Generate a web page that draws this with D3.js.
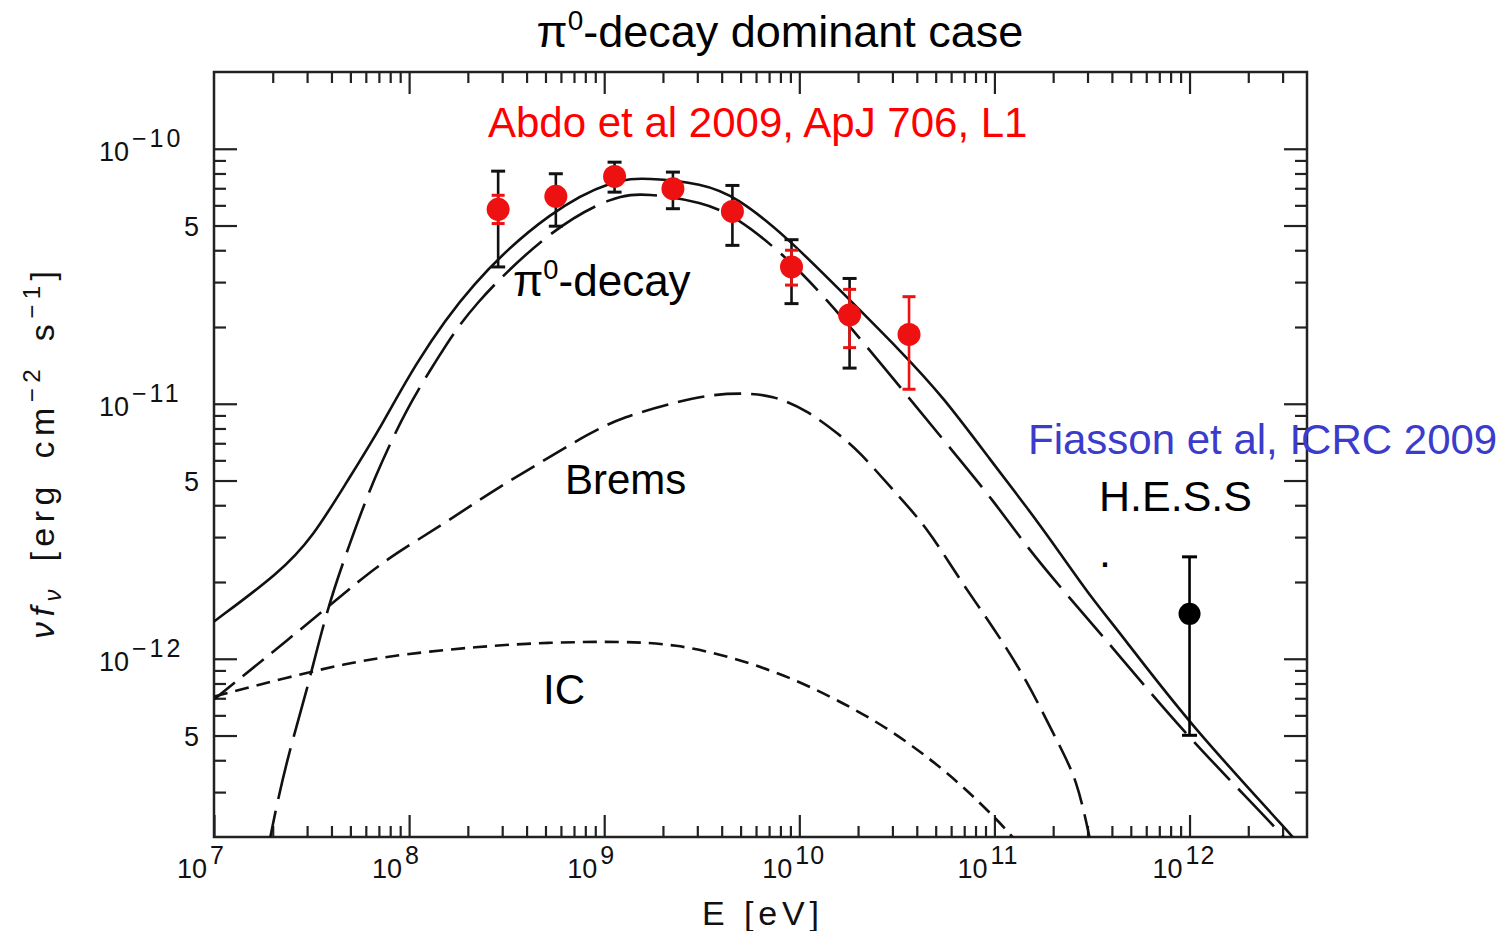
<!DOCTYPE html>
<html>
<head>
<meta charset="utf-8">
<script src="https://cdn.jsdelivr.net/npm/d3@7"></script>
<style>
  html, body { margin: 0; padding: 0; background: #fff; }
  svg { display: block; }
  text { font-family: "Liberation Sans", Arial, sans-serif; }
</style>
</head>
<body>
<div id="chart"></div>
<script>
// Model curves: E [eV] and nu f_nu [erg cm^-2 s^-1]
const totalE = [1e7, 2.18e7, 3.21e7, 4.80e7, 7.08e7, 1.045e8, 2.05e8, 5.46e8, 1.13e9, 1.65e9, 3.20e9, 4.78e9, 8.61e9, 1.556e10, 3.39e10, 5.43e10, 9.79e10, 1.46e11, 2.16e11, 3.18e11, 4.38e11, 1e12, 3.37e12, 4.5e12];
const totalF = [1.40e-12, 2.18e-12, 3.0e-12, 4.95e-12, 7.95e-12, 1.39e-11, 2.97e-11, 5.83e-11, 7.59e-11, 7.70e-11, 7.31e-11, 6.47e-11, 4.51e-11, 2.87e-11, 1.58e-11, 1.07e-11, 5.86e-12, 3.95e-12, 2.61e-12, 1.71e-12, 1.27e-12, 5.53e-13, 2.02e-13, 1.55e-13];

const pionE = [1.85e7, 1.94e7, 2.36e7, 2.98e7, 3.78e7, 4.97e7, 6.55e7, 9.71e7, 1.38e8, 2.05e8, 5.46e8, 1.13e9, 1.65e9, 3.20e9, 4.78e9, 8.61e9, 1.556e10, 3.39e10, 6.64e10, 9.79e10, 1.46e11, 2.16e11, 4.23e11, 1e12, 3.07e12, 4.5e12];
const pionF = [1.6e-13, 2.02e-13, 4.04e-13, 7.36e-13, 1.56e-12, 2.84e-12, 5.04e-12, 9.6e-12, 1.48e-11, 2.40e-11, 4.92e-11, 6.56e-11, 6.70e-11, 6.18e-11, 5.40e-11, 3.77e-11, 2.33e-11, 1.13e-11, 6.03e-12, 4.20e-12, 2.76e-12, 1.92e-12, 1.06e-12, 4.83e-13, 2.02e-13, 1.4e-13];

const bremsE = [1e7, 3.84e7, 7.08e7, 1.44e8, 2.59e8, 4.68e8, 8.44e8, 1.25e9, 2.25e9, 3.35e9, 4.95e9, 7.31e9, 1.09e10, 1.61e10, 2.04e10, 3.01e10, 4.49e10, 6.64e10, 9.79e10, 1.46e11, 2.16e11, 2.64e11, 3.07e11, 3.22e11];
const bremsF = [6.93e-13, 1.59e-12, 2.38e-12, 3.30e-12, 4.48e-12, 5.86e-12, 7.69e-12, 8.87e-12, 1.007e-11, 1.08e-11, 1.104e-11, 1.08e-11, 9.46e-12, 7.55e-12, 6.47e-12, 4.60e-12, 3.30e-12, 2.04e-12, 1.34e-12, 8.30e-13, 4.54e-13, 3.37e-13, 2.02e-13, 1.64e-13];

const icE = [1e7, 3.10e7, 7.08e7, 2.31e8, 5.33e8, 1.25e9, 2.33e9, 4.40e9, 8.28e9, 1.556e10, 2.94e10, 5.49e10, 8.39e10, 1.24e11, 1.35e11];
const icF = [7.11e-13, 8.91e-13, 1.02e-12, 1.12e-12, 1.16e-12, 1.17e-12, 1.14e-12, 1.02e-12, 8.69e-13, 6.93e-13, 5.28e-13, 3.69e-13, 2.74e-13, 2.02e-13, 1.82e-13];

// Fermi-LAT points (Abdo et al 2009)
const fermiE = [2.86e8, 5.65e8, 1.13e9, 2.25e9, 4.54e9, 9.12e9, 1.81e10, 3.65e10];
const fermiF = [5.79e-11, 6.51e-11, 7.79e-11, 6.97e-11, 5.68e-11, 3.44e-11, 2.23e-11, 1.87e-11];
const fermiSysLo = [3.44e-11, 4.97e-11, 6.76e-11, 5.82e-11, 4.18e-11, 2.47e-11, 1.38e-11, null];
const fermiSysHi = [8.17e-11, 7.98e-11, 8.86e-11, 8.10e-11, 7.18e-11, 4.40e-11, 3.10e-11, null];
const fermiStatLo = [5.09e-11, null, null, null, null, 2.92e-11, 1.66e-11, 1.14e-11];
const fermiStatHi = [6.57e-11, null, null, null, null, 4.00e-11, 2.81e-11, 2.63e-11];

// H.E.S.S. point (Fiasson et al, ICRC 2009)
const hessE = [1e12];
const hessF = [1.50e-12];
const hessLo = [5.01e-13];
const hessHi = [2.51e-12];

// axis ticks
const xMajorTicks = [1e7, 1e8, 1e9, 1e10, 1e11, 1e12];
const xTickExp = ["7", "8", "9", "10", "11", "12"];
const yLongTicks = [1e-10, 5e-11, 1e-11, 5e-12, 1e-12, 5e-13];
const yDecadeTicks = [1e-10, 1e-11, 1e-12];
const yDecadeExp = ["\u221210", "\u221211", "\u221212"];
const yFiveTicks = [5e-11, 5e-12, 5e-13];

const W = 1505, H = 931;
const PLOT = { left: 214, right: 1307, top: 72, bottom: 837 };

const svg = d3.select("#chart").append("svg")
    .attr("width", W)
    .attr("height", H);

const x = d3.scaleLog().domain([1e7, 4e12]).range([PLOT.left, PLOT.right]);
const y = d3.scaleLog().domain([2e-13, 2e-10]).range([PLOT.bottom, PLOT.top]);

const mant = v => Math.round(v / Math.pow(10, Math.floor(Math.log10(v) + 1e-9)));
const inside = (s, v) => { const d = s.domain(); return v > d[0] * 1.001 && v < d[1] * 0.999; };

const xMinor = x.ticks().filter(v => mant(v) !== 1 && inside(x, v));
const yMinor = y.ticks().filter(v => mant(v) !== 1 && mant(v) !== 5 && inside(y, v));

// Axes (ticks pointing inward on all four sides)
function addAxis(axisFn, transform, values, size) {
    const g = svg.append("g")
        .attr("transform", transform)
        .call(axisFn.tickValues(values).tickSizeInner(-size).tickSizeOuter(0).tickFormat(""));
    g.select(".domain").remove();
    g.selectAll(".tick line").attr("stroke", "#222").attr("stroke-width", 2.2);
}
addAxis(d3.axisBottom(x), `translate(0,${PLOT.bottom})`, xMajorTicks, 22);
addAxis(d3.axisBottom(x), `translate(0,${PLOT.bottom})`, xMinor, 11);
addAxis(d3.axisTop(x), `translate(0,${PLOT.top})`, xMajorTicks.filter(v => v > 1e7), 22);
addAxis(d3.axisTop(x), `translate(0,${PLOT.top})`, xMinor, 11);
addAxis(d3.axisLeft(y), `translate(${PLOT.left},0)`, yLongTicks, 23);
addAxis(d3.axisLeft(y), `translate(${PLOT.left},0)`, yMinor, 12);
addAxis(d3.axisRight(y), `translate(${PLOT.right},0)`, yLongTicks, 23);
addAxis(d3.axisRight(y), `translate(${PLOT.right},0)`, yMinor, 12);

// frame
svg.append("rect")
    .attr("x", PLOT.left)
    .attr("y", PLOT.top)
    .attr("width", PLOT.right - PLOT.left)
    .attr("height", PLOT.bottom - PLOT.top)
    .attr("fill", "none")
    .attr("stroke", "#222")
    .attr("stroke-width", 2.5);

// x tick labels
xMajorTicks.forEach((v, i) => {
    svg.append("text")
        .attr("x", x(v) - 7)
        .attr("y", PLOT.bottom + 41)
        .attr("text-anchor", "end")
        .attr("font-size", 27)
        .attr("fill", "#111")
        .text("10");
    svg.append("text")
        .attr("x", x(v) - 4)
        .attr("y", PLOT.bottom + 27)
        .attr("text-anchor", "start")
        .attr("font-size", 25)
        .attr("letter-spacing", 1)
        .attr("fill", "#111")
        .text(xTickExp[i]);
});

// y tick labels
yDecadeTicks.forEach((v, i) => {
    svg.append("text")
        .attr("x", 129)
        .attr("y", y(v) + 12)
        .attr("text-anchor", "end")
        .attr("font-size", 27)
        .attr("fill", "#111")
        .text("10");
    svg.append("text")
        .attr("x", 132)
        .attr("y", y(v) - 2)
        .attr("text-anchor", "start")
        .attr("font-size", 25)
        .attr("letter-spacing", 3)
        .attr("fill", "#111")
        .text(yDecadeExp[i]);
});
yFiveTicks.forEach(v => {
    svg.append("text")
        .attr("x", 199)
        .attr("y", y(v) + 10)
        .attr("text-anchor", "end")
        .attr("font-size", 27)
        .attr("fill", "#111")
        .text("5");
});

// axis titles
svg.append("text")
    .attr("x", (PLOT.left + PLOT.right) / 2)
    .attr("y", 925)
    .attr("text-anchor", "middle")
    .attr("font-size", 34)
    .attr("fill", "#111")
    .attr("textLength", 117)
    .attr("lengthAdjust", "spacing")
    .text("E [eV]");

const yTitle = svg.append("text")
    .attr("transform", "translate(54,455) rotate(-90)")
    .attr("text-anchor", "middle")
    .attr("font-size", 34)
    .attr("fill", "#111")
    .attr("textLength", 368)
    .attr("lengthAdjust", "spacing");
yTitle.append("tspan").attr("font-style", "italic").text("\u03bdf");
yTitle.append("tspan").attr("font-size", 24).attr("dy", 7).attr("font-style", "italic").text("\u03bd");
yTitle.append("tspan").attr("dy", -7).text("\u2002[erg\u2002cm");
yTitle.append("tspan").attr("font-size", 24).attr("dy", -14).text("\u22122");
yTitle.append("tspan").attr("dy", 14).text("\u2002s");
yTitle.append("tspan").attr("font-size", 24).attr("dy", -14).text("\u22121");
yTitle.append("tspan").attr("dy", 14).text("]");

// model curves
svg.append("clipPath").attr("id", "plot-clip")
    .append("rect")
    .attr("x", PLOT.left)
    .attr("y", PLOT.top)
    .attr("width", PLOT.right - PLOT.left)
    .attr("height", PLOT.bottom - PLOT.top);

const line = d3.line()
    .x(d => x(d[0]))
    .y(d => y(d[1]))
    .curve(d3.curveBasis);

const curves = [
    { E: totalE, F: totalF, dash: null },
    { E: pionE, F: pionF, dash: "52,12" },
    { E: bremsE, F: bremsF, dash: "27,10" },
    { E: icE, F: icF, dash: "14,8" }
];
const curveG = svg.append("g").attr("clip-path", "url(#plot-clip)");
curves.forEach(c => {
    curveG.append("path")
        .datum(c.E.map((e, i) => [e, c.F[i]]))
        .attr("d", line)
        .attr("fill", "none")
        .attr("stroke", "#111")
        .attr("stroke-width", 2.6)
        .attr("stroke-dasharray", c.dash);
});

// error bars
function errBar(g, e, lo, hi, color, cap) {
    g.append("line")
        .attr("x1", x(e)).attr("x2", x(e))
        .attr("y1", y(lo)).attr("y2", y(hi))
        .attr("stroke", color).attr("stroke-width", 2.6);
    [lo, hi].forEach(v => {
        g.append("line")
            .attr("x1", x(e) - cap / 2).attr("x2", x(e) + cap / 2)
            .attr("y1", y(v)).attr("y2", y(v))
            .attr("stroke", color).attr("stroke-width", 3);
    });
}
const pts = svg.append("g");
fermiE.forEach((e, i) => {
    if (fermiSysLo[i] !== null) errBar(pts, e, fermiSysLo[i], fermiSysHi[i], "#111", 14);
});
fermiE.forEach((e, i) => {
    if (fermiStatLo[i] !== null) errBar(pts, e, fermiStatLo[i], fermiStatHi[i], "#ee1111", 13);
});
pts.selectAll("circle.fermi")
    .data(fermiE.map((e, i) => [e, fermiF[i]]))
    .join("circle")
    .attr("class", "fermi")
    .attr("cx", d => x(d[0]))
    .attr("cy", d => y(d[1]))
    .attr("r", 11.5)
    .attr("fill", "#ee1111");

hessE.forEach((e, i) => errBar(pts, e, hessLo[i], hessHi[i], "#000", 15));
pts.selectAll("circle.hess")
    .data(hessE.map((e, i) => [e, hessF[i]]))
    .join("circle")
    .attr("class", "hess")
    .attr("cx", d => x(d[0]))
    .attr("cy", d => y(d[1]))
    .attr("r", 11)
    .attr("fill", "#000");

// annotations; parts: plain strings or {sup: "..."} raised by `raise` px
function label(tx, ty, size, color, parts, raise) {
    const t = svg.append("text")
        .attr("x", tx).attr("y", ty)
        .attr("font-size", size)
        .attr("fill", color);
    let up = false;
    parts.forEach(p => {
        const ts = t.append("tspan");
        if (typeof p === "string") {
            ts.text(p);
            if (up) { ts.attr("dy", raise); up = false; }
        } else {
            ts.attr("font-size", size * 0.62).attr("dy", -raise).text(p.sup);
            up = true;
        }
    });
    return t;
}
label(780, 47, 45, "#000", ["\u03c0", { sup: "0" }, "-decay dominant case"], 17)
    .attr("text-anchor", "middle");
label(488, 137, 42, "#ff0000", ["Abdo et al 2009, ApJ 706, L1"], 0);
label(513, 296, 44, "#000", ["\u03c0", { sup: "0" }, "-decay"], 17);
label(565, 494, 42, "#000", ["Brems"], 0);
label(543, 704, 42, "#000", ["IC"], 0);
label(1028, 454, 42, "#3b3bcc", ["Fiasson et al, ICRC 2009"], 0);
label(1099, 511, 43, "#000", ["H.E.S.S"], 0);
label(1099, 567, 43, "#000", ["."], 0);
</script>
</body>
</html>
